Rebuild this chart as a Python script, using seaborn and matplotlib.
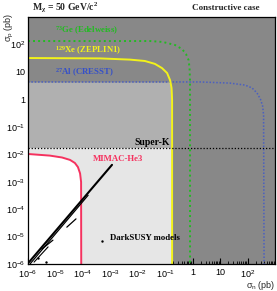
import numpy as np
import matplotlib
matplotlib.use('Agg')
import matplotlib.pyplot as plt
import matplotlib.ticker as mticker
import seaborn as sns

# exclusion curves: sigma_n (pb) vs sigma_p (pb)
ge_sn = [1e-6, 0.028, 0.083, 0.23, 0.41, 0.57, 0.71, 0.77, 0.80, 0.80]
ge_sp = [133, 133, 123, 95, 68, 45, 27, 13.8, 5.0, 1e-6]

xe_sn = [1e-6, 4.2e-4, 5.2e-3, 0.018, 0.042, 0.076, 0.117, 0.15, 0.17, 0.178, 0.178]
xe_sp = [32, 31, 28, 25, 19.6, 13.8, 9.1, 5.0, 2.6, 0.96, 1e-6]

al_sn = [1e-6, 1.87, 23, 81, 146, 222, 296, 354, 384, 400]
al_sp = [4.3, 4.3, 3.9, 3.3, 2.6, 1.7, 1.0, 0.57, 0.27, 1e-6]

mimac_sn = [1e-6, 6.3e-6, 1.74e-5, 3.4e-5, 5.1e-5, 6.6e-5, 7.9e-5, 8.6e-5, 8.7e-5]
mimac_sp = [0.0102, 0.0089, 0.0076, 0.0062, 0.0048, 0.0034, 0.0020, 9.8e-4, 1e-6]

superk_sp = 0.017

# DarkSUSY model strands (start/end) and loose points
susy_strands_sn = [(1.09e-6, 1.15e-3), (1.18e-6, 1.55e-4), (1.66e-6, 5.4e-6),
                   (3.2e-6, 8.1e-6), (2.6e-5, 5.6e-5)]
susy_strands_sp = [(1.17e-6, 4.1e-3), (1e-6, 3.2e-4), (1.17e-6, 4.2e-6),
                   (3.5e-6, 7.4e-6), (2.2e-5, 4.4e-5)]
susy_strands_lw = [1.5, 0.9, 0.8, 0.9, 0.9]
susy_pts_sn = [2.3e-6, 4.5e-6, 5.0e-4]
susy_pts_sp = [1.65e-6, 1.17e-6, 6.9e-6]

x_ticks = [1e-6, 1e-5, 1e-4, 1e-3, 1e-2, 1e-1, 1, 10, 100]
tick_labels = ['10$^{-6}$', '10$^{-5}$', '10$^{-4}$', '10$^{-3}$', '10$^{-2}$',
               '10$^{-1}$', '1', '10', '10$^{2}$']

sns.set_style('white')
plt.rcParams['font.family'] = ['Liberation Sans', 'DejaVu Sans']
plt.rcParams['mathtext.default'] = 'regular'

dark = '#888888'
medium = '#b0b0b0'
light = '#e6e6e6'

fig = plt.figure(figsize=(2.77, 2.91), dpi=100)
ax = fig.add_axes([28 / 277, 27 / 291, 247 / 277, 247 / 291])
ax.set_xscale('log')
ax.set_yscale('log')
ax.set_xlim(1e-6, 1e3)
ax.set_ylim(1e-6, 1e3)
ax.set_facecolor(dark)

# shaded regions, layered
ax.fill_between(xe_sn, 1e-6, xe_sp, color=medium, lw=0, zorder=1)
ax.fill_between(al_sn, al_sp, 1e3, color=dark, lw=0, zorder=1.1)
ax.fill_between(xe_sn, 1e-6, np.minimum(xe_sp, superk_sp), color=light, lw=0, zorder=1.2)
ax.fill_between(mimac_sn, 1e-6, mimac_sp, color='white', lw=0, zorder=1.3)

sns.lineplot(x=ge_sn, y=ge_sp, sort=False, estimator=None, ax=ax, color='#22bb22',
             lw=1.4, linestyle=(0, (1, 1.6)), zorder=3)
sns.lineplot(x=al_sn, y=al_sp, sort=False, estimator=None, ax=ax, color='#4a5fc0',
             lw=1.1, linestyle=(0, (1, 1.2)), zorder=3)
sns.lineplot(x=xe_sn, y=xe_sp, sort=False, estimator=None, ax=ax, color='#f2f21a',
             lw=1.4, zorder=3)
sns.lineplot(x=mimac_sn, y=mimac_sp, sort=False, estimator=None, ax=ax, color='#f5325f',
             lw=1.4, zorder=3)
ax.axhline(superk_sp, color='black', lw=0.9, linestyle=(0, (1, 1.5)), zorder=3)

for sn, sp, lw in zip(susy_strands_sn, susy_strands_sp, susy_strands_lw):
    ax.plot(sn, sp, color='black', lw=lw, solid_capstyle='round', zorder=4)
sns.scatterplot(x=susy_pts_sn, y=susy_pts_sp, ax=ax, color='black', s=3,
                linewidth=0, zorder=4)

# ticks ROOT style
ax.set_xticks(x_ticks)
ax.set_xticklabels(tick_labels)
ax.set_yticks(x_ticks)
ax.set_yticklabels(tick_labels)
ax.xaxis.set_minor_locator(mticker.LogLocator(base=10, subs=np.arange(2, 10), numticks=20))
ax.yaxis.set_minor_locator(mticker.LogLocator(base=10, subs=np.arange(2, 10), numticks=20))
ax.xaxis.set_minor_formatter(mticker.NullFormatter())
ax.yaxis.set_minor_formatter(mticker.NullFormatter())
ax.tick_params(which='both', direction='in', top=False, right=False,
               bottom=True, left=True, colors='black', labelsize=6.5)
ax.tick_params(which='major', length=4, width=0.8)
ax.tick_params(which='minor', length=2, width=0.6)
ax.tick_params(axis='x', pad=3)
ax.tick_params(axis='y', pad=2)
for sp in ax.spines.values():
    sp.set_color('black')
    sp.set_linewidth(0.9)
    sp.set_zorder(5)

serif = ['Liberation Serif', 'DejaVu Serif']
ax.text(0.109, 0.943, '$^{73}$Ge (Edelweiss)', transform=ax.transAxes, color='#22bb22',
        family=serif, weight='bold', fontsize=6.3, va='center', zorder=6)
ax.text(0.109, 0.862, '$^{129}$Xe (ZEPLIN1)', transform=ax.transAxes, color='#f2f21a',
        family=serif, weight='bold', fontsize=6.3, va='center', zorder=6)
ax.text(0.109, 0.773, '$^{27}$Al (CRESST)', transform=ax.transAxes, color='#3550c8',
        family=serif, weight='bold', fontsize=6.3, va='center', zorder=6)
ax.text(0.575, 0.49, 'Super-K', transform=ax.transAxes, color='black',
        family=serif, weight='bold', fontsize=7, ha='right', va='center', zorder=6)
ax.text(0.263, 0.425, 'MIMAC-He3', transform=ax.transAxes, color='#f5325f',
        family=serif, weight='bold', fontsize=6.3, va='center', zorder=6)
ax.text(0.332, 0.105, 'DarkSUSY models', transform=ax.transAxes, color='black',
        family=serif, weight='bold', fontsize=6.3, va='center', zorder=6)

fig.text(0.116, 0.972, '$M_\\chi$ = 50 GeV/c$^2$', family=serif, weight='bold',
         fontsize=7, va='center')
fig.text(0.693, 0.972, 'Constructive case', family=serif, weight='bold',
         fontsize=6.5, va='center')
fig.text(0.034, 0.955, '$\\sigma_p$ (pb)', rotation=90, fontsize=6.5,
         ha='center', va='top')
fig.text(0.993, 0.018, '$\\sigma_n$ (pb)', fontsize=6.5, ha='right', va='center')

fig.savefig('out.png', dpi=100)
